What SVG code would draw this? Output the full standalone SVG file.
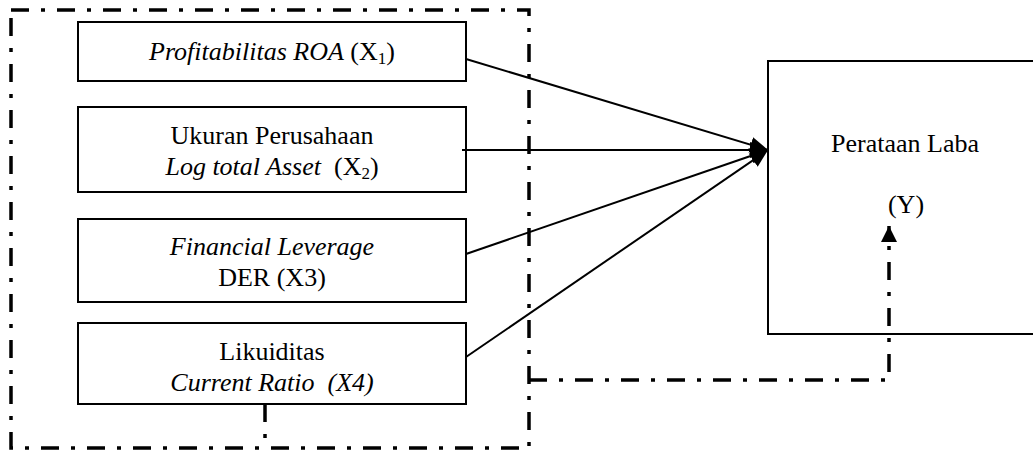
<svg xmlns="http://www.w3.org/2000/svg" width="1033" height="450" viewBox="0 0 1033 450">
<style>
.box{fill:none;stroke:#000;stroke-width:2}
.dash{fill:none;stroke:#000;stroke-width:3.5;stroke-dasharray:18 12 4 12}
.solid{fill:none;stroke:#000;stroke-width:2}
text{font-family:"Liberation Serif","Times New Roman",serif;font-size:26px;fill:#000}
.i{font-style:italic}
</style>
<defs>
<marker id="ah" markerUnits="userSpaceOnUse" markerWidth="20" markerHeight="18" refX="18" refY="8" orient="auto">
<path d="M0,0 L18,8 L0,16 z" fill="#000"/>
</marker>
<marker id="ah2" markerUnits="userSpaceOnUse" markerWidth="18" markerHeight="18" refX="16" refY="8" orient="auto">
<path d="M0,0 L16,8 L0,16 z" fill="#000"/>
</marker>
</defs>
<g id="frame">
<rect class="dash" x="11" y="10" width="518" height="438"/>
</g>
<g id="x1">
<rect class="box" x="78" y="22" width="388" height="59"/>
<text x="272" y="60" text-anchor="middle"><tspan class="i">Profitabilitas ROA</tspan> (X<tspan font-size="17" dy="4">1</tspan><tspan dy="-4">)</tspan></text>
</g>
<g id="x2">
<rect class="box" x="78" y="107" width="388" height="85"/>
<text x="272" y="144" text-anchor="middle">Ukuran Perusahaan</text>
<text x="272" y="175" text-anchor="middle" xml:space="preserve"><tspan class="i">Log total Asset</tspan>  (X<tspan font-size="17" dy="4">2</tspan><tspan dy="-4">)</tspan></text>
</g>
<g id="x3">
<rect class="box" x="78" y="219" width="388" height="83"/>
<text x="272" y="255" text-anchor="middle" class="i">Financial Leverage</text>
<text x="272" y="286" text-anchor="middle">DER (X3)</text>
</g>
<g id="x4">
<rect class="box" x="78" y="323" width="388" height="81"/>
<text x="272" y="360" text-anchor="middle">Likuiditas</text>
<text x="272" y="391" text-anchor="middle" class="i" xml:space="preserve">Current Ratio  (X4)</text>
</g>
<g id="y">
<rect class="box" x="768" y="61" width="300" height="273"/>
<text x="905" y="152" text-anchor="middle">Perataan Laba</text>
<text x="906" y="213" text-anchor="middle">(Y)</text>
</g>
<g id="connectors">
<line class="solid" x1="466" y1="59" x2="768" y2="150" marker-end="url(#ah)"/>
<line class="solid" x1="462" y1="150" x2="768" y2="150" marker-end="url(#ah)"/>
<line class="solid" x1="466" y1="254" x2="768" y2="150" marker-end="url(#ah)"/>
<line class="solid" x1="466" y1="357" x2="768" y2="150" marker-end="url(#ah)"/>
<line class="dash" x1="265" y1="404" x2="265" y2="448"/>
<polyline class="dash" points="529,380 889,380 889,226" marker-end="url(#ah2)"/>
</g>
</svg>
